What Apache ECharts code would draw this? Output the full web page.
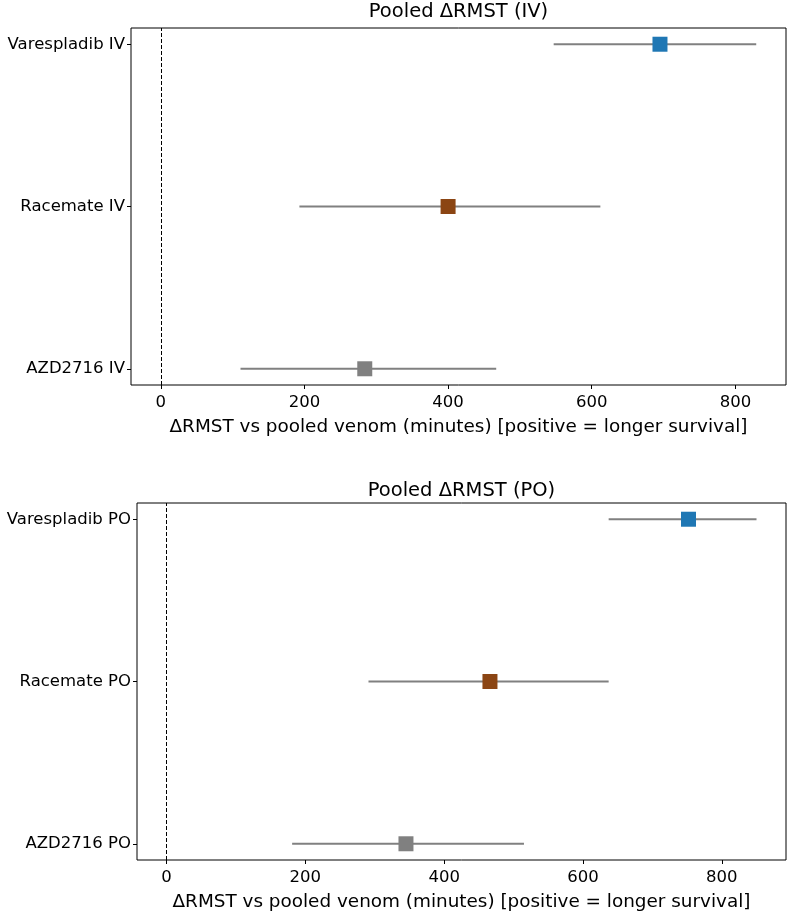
<!DOCTYPE html>
<html>
<head>
<meta charset="utf-8">
<script src="https://cdn.jsdelivr.net/npm/echarts@6/dist/echarts.min.js"></script>
<style>
  html, body { margin: 0; padding: 0; background: #fff; }
  #chart { width: 790px; height: 913px; }
</style>
</head>
<body>
<div id="chart"></div>
<script>
// rows bottom -> top, like the matplotlib y positions 0,1,2
const ivLabels = ["AZD2716 IV", "Racemate IV", "Varespladib IV"]
const ivEst = [284, 400, 695]
const ivLo = [111, 193, 547]
const ivHi = [467, 612, 829]

const poLabels = ["AZD2716 PO", "Racemate PO", "Varespladib PO"]
const poEst = [345, 466, 752]
const poLo = [181, 291, 637]
const poHi = [515, 637, 850]

const markerColors = ["#808080", "#8b4513", "#1f77b4"]
const xTicks = [0, 200, 400, 600, 800]
const xTitle = "ΔRMST vs pooled venom (minutes) [positive = longer survival]"

const FONT = "DejaVu Sans"
const TICK_FS = 16.5

// x range the way matplotlib autoscale does it (0 line included, 5% margins)
function xRange(lo, hi) {
  const a = Math.min(0, ...lo)
  const b = Math.max(0, ...hi)
  const pad = (b - a) * 0.05
  return [a - pad, b + pad]
}

const grids = [
  { left: 131, right: 4, top: 28, height: 357 },
  { left: 137, right: 4, top: 503, height: 357 },
]

function panel(idx, labels, est, lo, hi) {
  const [xmin, xmax] = xRange(lo, hi)
  const xAxis = {
    gridIndex: idx,
    type: "value",
    min: xmin,
    max: xmax,
    name: xTitle,
    nameLocation: "middle",
    nameGap: 33,
    nameTextStyle: { fontFamily: FONT, fontSize: 18.4, color: "#000" },
    axisLine: { show: false, onZero: false },
    axisTick: { show: true, length: 4, customValues: xTicks, lineStyle: { color: "#000" } },
    axisLabel: { customValues: xTicks, fontFamily: FONT, fontSize: TICK_FS, color: "#000", margin: 9 },
    splitLine: { show: false },
  }
  const yAxis = {
    gridIndex: idx,
    type: "value",
    min: -0.1,
    max: 2.1,
    axisLine: { show: false, onZero: false },
    axisTick: { show: true, length: 4, customValues: [0, 1, 2], lineStyle: { color: "#000" } },
    axisLabel: {
      customValues: [0, 1, 2],
      formatter: (v) => labels[Math.round(v)] ?? "",
      fontFamily: FONT,
      fontSize: TICK_FS,
      color: "#000",
      margin: 6,
    },
    splitLine: { show: false },
  }
  const bars = {
    type: "custom",
    xAxisIndex: idx,
    yAxisIndex: idx,
    data: labels.map((_, i) => [lo[i], hi[i], i]),
    renderItem: (params, api) => {
      const a = api.coord([api.value(0), api.value(2)])
      const b = api.coord([api.value(1), api.value(2)])
      return {
        type: "line",
        shape: { x1: a[0], y1: a[1], x2: b[0], y2: b[1] },
        style: { stroke: "#808080", lineWidth: 2 },
      }
    },
    markLine: {
      silent: true,
      symbol: "none",
      label: { show: false },
      lineStyle: { color: "#000", width: 1, type: [4, 2] },
      data: [{ xAxis: 0 }],
    },
    z: 2,
  }
  const points = {
    type: "scatter",
    xAxisIndex: idx,
    yAxisIndex: idx,
    symbol: "rect",
    symbolSize: 15,
    data: est.map((v, i) => ({ value: [v, i], itemStyle: { color: markerColors[i], opacity: 1 } })),
    z: 3,
  }
  return { xAxis, yAxis, series: [bars, points] }
}

const p1 = panel(0, ivLabels, ivEst, ivLo, ivHi)
const p2 = panel(1, poLabels, poEst, poLo, poHi)

const titleStyle = { fontFamily: FONT, fontSize: 19.5, fontWeight: "normal", color: "#000" }

const chart = echarts.init(document.getElementById("chart"), null, { renderer: "canvas" })
chart.setOption({
  animation: false,
  backgroundColor: "#fff",
  title: [
    {
      text: "Pooled ΔRMST (IV)",
      left: grids[0].left + (790 - grids[0].left - grids[0].right) / 2,
      top: 2,
      padding: 0,
      textAlign: "center",
      textStyle: titleStyle,
    },
    {
      text: "Pooled ΔRMST (PO)",
      left: grids[1].left + (790 - grids[1].left - grids[1].right) / 2,
      top: 481,
      padding: 0,
      textAlign: "center",
      textStyle: titleStyle,
    },
  ],
  grid: grids.map((g) => ({
    ...g,
    show: true,
    borderColor: "#000",
    borderWidth: 1,
    backgroundColor: "transparent",
    outerBoundsMode: "none",
  })),
  xAxis: [p1.xAxis, p2.xAxis],
  yAxis: [p1.yAxis, p2.yAxis],
  series: [...p1.series, ...p2.series],
})
</script>
</body>
</html>
